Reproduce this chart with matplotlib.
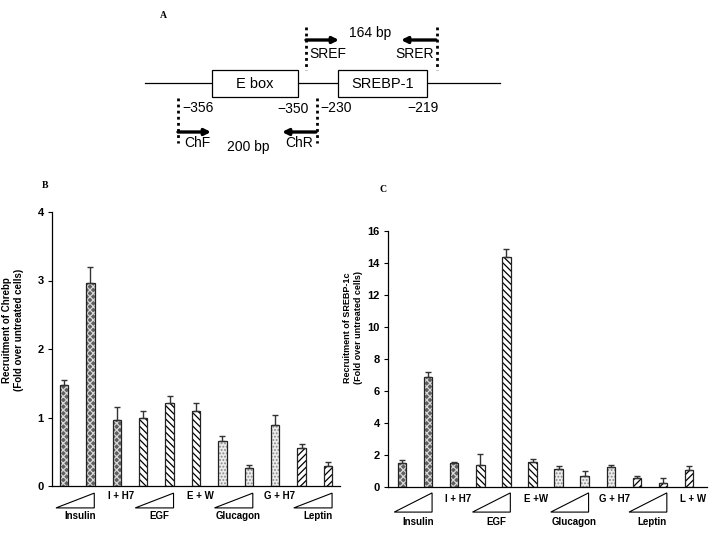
import matplotlib.pyplot as plt
from matplotlib.transforms import blended_transform_factory
from matplotlib.patches import Rectangle, Polygon

plt.rcParams['font.family'] = ['Liberation Sans', 'DejaVu Sans']
plt.rcParams['hatch.linewidth'] = 0.9

# panel B: Chrebp recruitment
b_vals = [1.47, 2.97, 0.96, 1.00, 1.21, 1.10, 0.65, 0.26, 0.89, 0.56, 0.29]
b_err = [0.08, 0.22, 0.20, 0.09, 0.10, 0.11, 0.08, 0.05, 0.15, 0.06, 0.06]
b_fill = ['chk', 'chk', 'chk', 'bck', 'bck', 'bck', 'dot', 'dot', 'dot', 'fwd', 'fwd']
b_groups = [(0, 1, 'Insulin'), (3, 4, 'EGF'), (6, 7, 'Glucagon'), (9, 10, 'Leptin')]
b_single = [(2, 'I + H7'), (5, 'E + W'), (8, 'G + H7')]
b_ticks = [0, 1, 2, 3, 4]

# panel C: SREBP-1c recruitment
c_vals = [1.50, 6.90, 1.50, 1.40, 14.40, 1.58, 1.15, 0.70, 1.28, 0.55, 0.28, 1.05]
c_err = [0.20, 0.30, 0.05, 0.65, 0.50, 0.20, 0.18, 0.30, 0.10, 0.15, 0.27, 0.25]
c_fill = ['chk', 'chk', 'chk', 'bck', 'bck', 'bck', 'dot', 'dot', 'dot', 'fwd', 'fwd', 'fwd']
c_groups = [(0, 1, 'Insulin'), (3, 4, 'EGF'), (6, 7, 'Glucagon'), (9, 10, 'Leptin')]
c_single = [(2, 'I + H7'), (5, 'E +W'), (8, 'G + H7'), (11, 'L + W')]
c_ticks = [0, 2, 4, 6, 8, 10, 12, 14, 16]

styles = {
    'chk': dict(face='#5f5f5f', hatch='xxxxx', hc='#d8d8d8'),
    'bck': dict(face='white', hatch='\\\\\\\\\\', hc='black'),
    'dot': dict(face='#ececec', hatch='.....', hc='#8a8a8a'),
    'fwd': dict(face='white', hatch='/////', hc='black'),
}

W, H = 712, 537
fig = plt.figure(figsize=(7.12, 5.37), dpi=100)


def px_axes(x0, y0, x1, y1):
    return fig.add_axes([x0 / W, 1 - y1 / H, (x1 - x0) / W, (y1 - y0) / H])


def draw_bars(ax, vals, errs, fills, groups, singles, ticks, yl, xl,
              tri_top, tri_bot, lab_y, single_y, fs_tick, fam):
    xs = list(range(len(vals)))
    for x, v, e, f in zip(xs, vals, errs, fills):
        st = styles[f]
        ax.bar(x, v, 0.32, color=st['face'], edgecolor=st['hc'], hatch=st['hatch'], lw=0, zorder=2)
        ax.bar(x, v, 0.32, fill=False, edgecolor='#222222', lw=0.9, zorder=3)
        ax.errorbar(x, v, yerr=[[0], [e]], fmt='none', ecolor='#333333', elinewidth=1.0,
                    capsize=2.2, capthick=1.0, zorder=4)
    ax.set_ylim(yl)
    ax.set_xlim(xl)
    ax.set_xticks([])
    ax.set_yticks(ticks)
    ax.set_yticklabels([str(t) for t in ticks], fontweight='bold', fontsize=fs_tick, family=fam)
    ax.tick_params(axis='y', length=3, width=0.8, pad=3)
    for s in ['top', 'right']:
        ax.spines[s].set_visible(False)
    for s in ['left', 'bottom']:
        ax.spines[s].set_linewidth(0.9)
    tr = blended_transform_factory(ax.transData, ax.transAxes)
    for a, b, name in groups:
        tri = Polygon([(a - 0.3, tri_bot), (b + 0.15, tri_bot), (b + 0.15, tri_top)],
                      closed=True, fill=False, edgecolor='black', lw=0.8,
                      transform=tr, clip_on=False)
        ax.add_patch(tri)
        ax.text((a + b) / 2 + 0.1, lab_y, name, transform=tr, ha='center', va='center',
                fontsize=7, fontweight='bold', family=fam)
    for x, name in singles:
        ax.text(x + 0.15, single_y, name, transform=tr, ha='center', va='center',
                fontsize=7, fontweight='bold', family=fam)


axB = px_axes(52, 212, 340, 486)
draw_bars(axB, b_vals, b_err, b_fill, b_groups, b_single, b_ticks, (0, 4), (-0.45, 10.45),
          -0.026, -0.080, -0.110, -0.036, 8, ['Liberation Sans', 'DejaVu Sans'])

narrow = ['Liberation Sans Narrow', 'Liberation Sans', 'DejaVu Sans']
axC = px_axes(388, 231, 707, 487)
draw_bars(axC, c_vals, c_err, c_fill, c_groups, c_single, c_ticks, (0, 16), (-0.54, 11.69),
          -0.023, -0.098, -0.137, -0.047, 8, narrow)

fig.text(13 / W, 1 - 330 / H, 'Recruitment of Chrebp\n(Fold over untreated cells)',
         rotation=90, ha='center', va='center', fontsize=7, fontweight='bold', linespacing=1.2)
fig.text(353 / W, 1 - 328 / H, 'Recruitment of SREBP-1c\n(Fold over untreated cells)',
         rotation=90, ha='center', va='center', fontsize=6.5, fontweight='bold', linespacing=1.2)

serif = ['Liberation Serif', 'DejaVu Serif']
fig.text(42 / W, 1 - 186 / H, 'B', family=serif, fontsize=7, fontweight='bold', va='center')
fig.text(379 / W, 1 - 189 / H, 'C', family=serif, fontsize=7, fontweight='bold', va='center')

# panel A: promoter schematic (pixel space)
axA = fig.add_axes([0, 0, 1, 1], zorder=-1)
axA.set_xlim(0, W)
axA.set_ylim(H, 0)
axA.axis('off')
axA.text(160, 15, 'A', family=serif, fontsize=7, fontweight='bold', va='center')
axA.plot([145, 500], [83, 83], color='black', lw=0.9)
for x0, x1, name in [(212, 298, 'E box'), (338, 427, 'SREBP-1')]:
    axA.add_patch(Rectangle((x0, 70), x1 - x0, 27, facecolor='white', edgecolor='black', lw=0.9, zorder=3))
    axA.text((x0 + x1) / 2, 83.5, name, ha='center', va='center', fontsize=10.5, zorder=4)

for x, ya, yb in [(306, 27, 70), (437, 27, 70), (178, 98, 143), (317, 98, 143)]:
    axA.plot([x, x], [ya, yb], color='black', lw=2.0, ls=(0, (1, 1.2)))

arrow = dict(arrowstyle='-|>', lw=2.4, color='black', mutation_scale=9, shrinkA=0, shrinkB=0)
axA.annotate('', xy=(339, 40), xytext=(306, 40), arrowprops=arrow)
axA.annotate('', xy=(401, 40), xytext=(436, 40), arrowprops=arrow)
axA.annotate('', xy=(211, 132), xytext=(178, 132), arrowprops=arrow)
axA.annotate('', xy=(282, 132), xytext=(316, 132), arrowprops=arrow)

axA.text(370, 33, '164 bp', ha='center', va='center', fontsize=10)
axA.text(309, 54, 'SREF', ha='left', va='center', fontsize=10)
axA.text(434, 54, 'SRER', ha='right', va='center', fontsize=10)
axA.text(182, 108, '\u2212356', ha='left', va='center', fontsize=10)
axA.text(309, 109, '\u2212350', ha='right', va='center', fontsize=10)
axA.text(320, 108, '\u2212230', ha='left', va='center', fontsize=10)
axA.text(407, 108, '\u2212219', ha='left', va='center', fontsize=10)
axA.text(184, 143, 'ChF', ha='left', va='center', fontsize=10)
axA.text(313, 143, 'ChR', ha='right', va='center', fontsize=10)
axA.text(248, 147, '200 bp', ha='center', va='center', fontsize=10)

fig.savefig('out.png', dpi=100)
